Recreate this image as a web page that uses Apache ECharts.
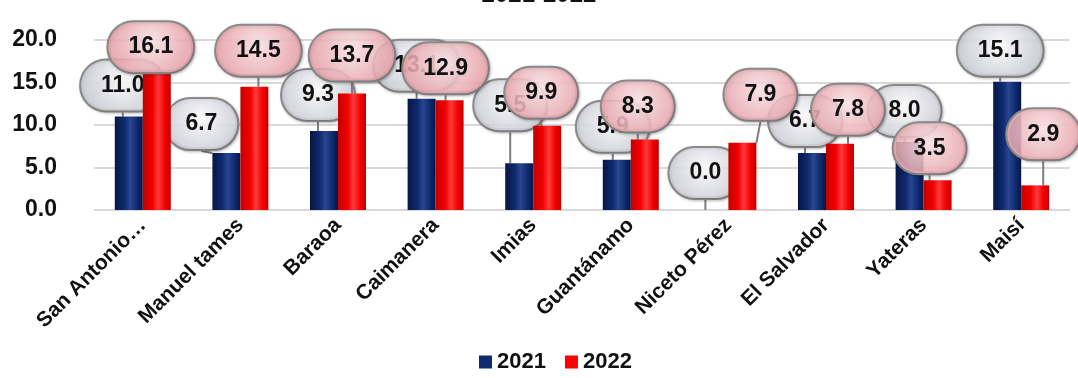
<!DOCTYPE html>
<html>
<head>
<meta charset="utf-8">
<script src="https://cdn.jsdelivr.net/npm/echarts@6/dist/echarts.min.js"></script>
<style>
  html, body { margin: 0; padding: 0; background: #ffffff; }
  #chart { width: 1078px; height: 378px; }
</style>
</head>
<body>
<div id="chart"></div>
<script>
// Municipalities and yearly values
const categories = ['San Antonio…', 'Manuel tames', 'Baraoa', 'Caimanera', 'Imias', 'Guantánamo', 'Niceto Pérez', 'El Salvador', 'Yateras', 'Maisí'];
const values2021 = [11.0, 6.7, 9.3, 13.1, 5.5, 5.9, 0.0, 6.7, 8.0, 15.1];
const values2022 = [16.1, 14.5, 13.7, 12.9, 9.9, 8.3, 7.9, 7.8, 3.5, 2.9];
const yTicks = [0, 5, 10, 15, 20];

// Callout placement: shift of each bubble from the top of its bar [dx, dy]
const nudge2021 = [[-6, -6], [-25, -4], [-6, -11], [-5, -8], [-9, -33], [-4, -8], [-9, -12], [-7, -7], [-5, -6], [-7, -6]];
const nudge2022 = [[-6, -1], [4, -11], [0, -13], [-4, -7], [-6, -8], [-7, -8], [18, -23], [8, -9], [-8, -7], [8, -26]];

const FONT = '"Liberation Sans", Arial, sans-serif';
const NAVY = '#0f2a6e';
const RED = '#ff0000';

function cylinder(edge, mid, hi) {
  return new echarts.graphic.LinearGradient(0, 0, 1, 0, [
    { offset: 0, color: edge },
    { offset: 0.35, color: mid },
    { offset: 0.55, color: hi },
    { offset: 0.8, color: mid },
    { offset: 1, color: edge }
  ]);
}

// Oval callout drawn as the label's own background box
function bubble(inner, outer) {
  return {
    show: true,
    position: 'top',
    distance: 0,
    formatter: p => p.value.toFixed(1),
    fontFamily: FONT,
    fontWeight: 'bold',
    fontSize: 23,
    lineHeight: 24,
    color: '#111',
    backgroundColor: new echarts.graphic.RadialGradient(0.5, 0.4, 0.7, [
      { offset: 0, color: inner },
      { offset: 1, color: outer }
    ]),
    borderColor: '#8c8c8c',
    borderWidth: 2,
    borderRadius: 25,
    padding: [13, 20, 13, 20],
    align: 'center',
    shadowColor: 'rgba(0,0,0,0.25)',
    shadowBlur: 3,
    shadowOffsetX: 1,
    shadowOffsetY: 1
  };
}

const chart = echarts.init(document.getElementById('chart'), null, { renderer: 'canvas' });

chart.setOption({
  animation: false,
  backgroundColor: '#ffffff',
  title: {
    text: '2021-2022',
    left: 'center',
    top: -22,
    textStyle: { fontFamily: FONT, fontWeight: 'bold', fontSize: 24, color: '#111' }
  },
  legend: {
    bottom: 0,
    left: 474,
    itemWidth: 13,
    itemHeight: 13,
    itemGap: 19,
    icon: 'rect',
    textStyle: { fontFamily: FONT, fontWeight: 'bold', fontSize: 22, color: '#111' },
    data: [
      { name: '2021', itemStyle: { color: NAVY } },
      { name: '2022', itemStyle: { color: RED } }
    ]
  },
  grid: { left: 94, right: 8, top: 40, bottom: 168, containLabel: false },
  xAxis: {
    type: 'category',
    data: categories,
    axisLine: { show: false },
    axisTick: { show: false },
    axisLabel: {
      rotate: 45,
      interval: 0,
      margin: 12,
      fontFamily: FONT,
      fontWeight: 'bold',
      fontSize: 21,
      color: '#111'
    }
  },
  yAxis: {
    type: 'value',
    min: yTicks[0],
    max: yTicks[yTicks.length - 1],
    interval: 5,
    axisLine: { show: false },
    axisTick: { show: false },
    splitLine: { lineStyle: { color: '#d9d9d9', width: 2 } },
    axisLabel: {
      margin: 37,
      fontFamily: FONT,
      fontWeight: 'bold',
      fontSize: 23,
      color: '#111',
      formatter: v => v.toFixed(1)
    }
  },
  series: [
    {
      name: '2021',
      type: 'bar',
      data: values2021,
      barWidth: 28,
      barGap: '0%',
      itemStyle: { color: cylinder('#071646', NAVY, '#2a4690') },
      label: bubble('rgba(255,255,255,0.9)', 'rgba(210,212,220,0.85)'),
      labelLine: { show: true, lineStyle: { color: '#7d7d7d', width: 2 } },
      labelLayout: p => ({ dx: nudge2021[p.dataIndex][0], dy: nudge2021[p.dataIndex][1] }),
      z: 2
    },
    {
      name: '2022',
      type: 'bar',
      data: values2022,
      barWidth: 28,
      barGap: '0%',
      itemStyle: { color: cylinder('#c40000', '#f20000', '#ff3b3b') },
      label: bubble('rgba(255,232,234,0.88)', 'rgba(240,170,178,0.82)'),
      labelLine: { show: true, lineStyle: { color: '#7d7d7d', width: 2 } },
      labelLayout: p => ({ dx: nudge2022[p.dataIndex][0], dy: nudge2022[p.dataIndex][1] }),
      z: 3
    }
  ],
  color: [NAVY, RED]
});
</script>
</body>
</html>
